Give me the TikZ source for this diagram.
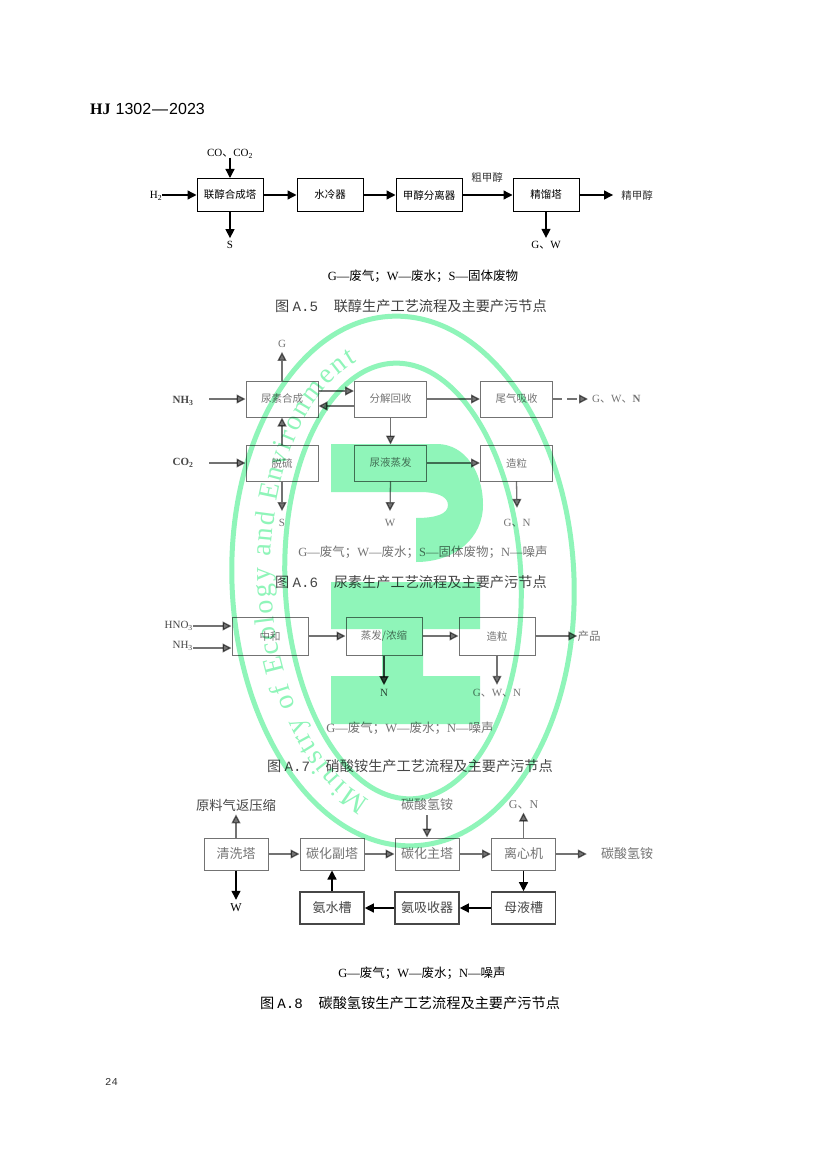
\documentclass[tikz,border=0pt]{standalone}
\usepackage{fontspec}
\setmainfont{Liberation Serif}
\setsansfont{Liberation Sans}
\setmonofont{Liberation Mono}
\newfontfamily\cjk{Noto Sans CJK SC}
\usetikzlibrary{arrows.meta,decorations.text}
\newcommand{\zh}[1]{{\cjk #1}}
\newcommand{\lgd}[1]{{\fontsize{12.5}{13}\selectfont #1}}
\newcommand{\capt}[2]{{\fontsize{14.2}{15}\selectfont\cjk 图 {\ttfamily #1}\hspace{1.1em}#2}}
\definecolor{wm}{HTML}{8FF5B9}
\tikzset{
 box/.style={draw,line width=1pt,inner sep=0pt,minimum width=#1,font=\fontsize{10.5}{11}\selectfont\cjk},
 box/.default=66pt,
 lab/.style={inner sep=0pt,font=\fontsize{11}{12}\selectfont},
 arr/.style={line width=1.3pt,-{Triangle[length=9pt,width=9pt]}},
 dim/.style={opacity=.55},
 dimk/.style={opacity=.72},
}
\begin{document}
\begin{tikzpicture}[x=1pt,y=-1pt]
\useasboundingbox (0,0) rectangle (826,1169);
\fill[white] (0,0) rectangle (826,1169);
% watermark
\begin{scope}[shift={(403,581)},rotate=2.5]
\draw[wm,line width=5pt] (0,0) ellipse [x radius=171,y radius=265];
\draw[wm,line width=5pt] (0,0) ellipse [x radius=118,y radius=218];
\draw[decorate,decoration={text along path,text align={fit to path},
  text={|\fontsize{28}{29}\selectfont\color{wm}|Ministry of Ecology and Environment}}]
 plot[domain=109:254,samples=150,variable=\t] ({132*cos(\t)},{230*sin(\t)});
\end{scope}
\fill[wm] (331,444) -- (437,444) .. controls (465,444) and (483,472) .. (483,505)
 .. controls (483,538) and (455,562) .. (416,562) -- (416,518)
 .. controls (436,518) and (448,514) .. (448,505) .. controls (448,496) and (436,492) .. (420,492)
 -- (331,492) -- cycle;
\fill[wm] (331,582) -- (480,582) -- (480,629) -- (423,629) -- (423,676) -- (480,676) -- (480,724)
 -- (331,724) -- (331,676) -- (382,676) -- (382,629) -- (331,629) -- cycle;
% header
\node[anchor=base west,inner sep=0pt,font=\fontsize{16}{17}\selectfont] (hdr) at (90,115) {\textbf{HJ}\hspace{5pt}\textsf{1302\hspace{1pt}—\hspace{1pt}2023}};
\node[anchor=base west,inner sep=0pt,font=\fontsize{10.5}{11}\selectfont\ttfamily,opacity=.8] (pg) at (105,1085) {24};
% Diagram A.5
\begin{scope}[every node/.append style={minimum height=33pt}]
\node[box] (a1) at (230,195) {联醇合成塔};
\node[box] (a2) at (330,195) {水冷器};
\node[box] (a3) at (429,195) {甲醇分离器};
\node[box] (a4) at (546,195) {精馏塔};
\end{scope}
\node[lab] (h2) at (156,196) {H\textsubscript{2}};
\node[lab] (co) at (230,154) {CO\zh{、}CO\textsubscript{2}};
\node[lab] (as) at (230,245) {S};
\node[lab] (agw) at (546,245) {G\zh{、}W};
\node[lab,font=\fontsize{10.5}{11}\selectfont\cjk,opacity=.8] (acu) at (487,177) {粗甲醇};
\node[lab,font=\fontsize{10.5}{11}\selectfont\cjk,opacity=.8] (ajing) at (637,195) {精甲醇};
\draw[arr] (h2.east |- a1.west) -- (a1.west);
\draw[arr] (co.south) ++(0,-1) -- (a1.north);
\draw[arr] (a1.south) -- ([yshift=3pt]as.north);
\draw[arr] (a1) -- (a2);
\draw[arr] (a2) -- (a3);
\draw[arr] (a3) -- (a4);
\draw[arr] (a4.east) -- ([xshift=-8pt]ajing.west);
\draw[arr] (a4.south) -- ([yshift=3pt]agw.north);
\node[lab] (al) at (423,276) {\lgd{G—\zh{废气；}W—\zh{废水；}S—\zh{固体废物}}};
\node[lab,opacity=.75] (ac) at (411,306) {\capt{A.5}{联醇生产工艺流程及主要产污节点}};
% Diagram A.6
\begin{scope}[every node/.append style={minimum height=36pt,dim,font=\fontsize{11}{12}\selectfont\cjk}]
\node[box=72pt] (b1) at (282,399) {尿素合成};
\node[box=72pt] (b2) at (390.5,399) {分解回收};
\node[box=72pt] (b3) at (516.5,399) {尾气吸收};
\node[box=72pt] (b4) at (282,463) {脱硫};
\node[box=72pt] (b5) at (390.5,463) {尿液蒸发};
\node[box=72pt] (b6) at (516.5,463) {造粒};
\end{scope}
\node[lab,font=\bfseries\fontsize{11}{12}\selectfont,dimk] (nh) at (183,401) {NH\textsubscript{3}};
\node[lab,font=\bfseries\fontsize{11}{12}\selectfont,dimk] (co2) at (183,463) {CO\textsubscript{2}};
\node[lab,dim] (bg) at (282,344) {G};
\node[lab,dim] (bs) at (282,523) {S};
\node[lab,dim] (bw) at (390,523) {W};
\node[lab,dim] (bgn) at (517,523) {G\zh{、}N};
\node[lab,dim,anchor=west] (bgwn) at (592,399) {G\zh{、}W\zh{、}\textbf{N}};
\coordinate (nhs) at (209,399);
\coordinate (cos) at (209,463);
\draw[arr,dim] (nhs) -- (b1.west);
\draw[arr,dim] (cos) -- (b4.west);
\draw[arr,dim] (b1.north) -- ([yshift=-4pt]bg.south);
\draw[arr,dim] (b4.north) -- (b1.south);
\draw[arr,dim] ([yshift=8pt]b1.east) -- ([yshift=8pt]b2.west);
\draw[arr,dim] ([yshift=-7pt]b2.west) -- ([yshift=-7pt]b1.east);
\draw[arr,dim] (b2) -- (b3);
\draw[arr,dim] (b2) -- (b5);
\draw[arr,dim] (b5) -- (b6);
\draw[arr,dim,dash pattern=on 9pt off 5pt on 10pt off 3pt] (b3.east) -- ([xshift=-4pt]bgwn.west);
\draw[arr,dim] (b4.south) -- ([yshift=8pt]bs.north);
\draw[arr,dim] (b5.south) -- ([yshift=8pt]bw.north);
\draw[arr,dim] (b6.south) -- ([yshift=11pt]bgn.north);
\node[lab,dim] (bl) at (423,552) {\lgd{G—\zh{废气；}W—\zh{废水；}S—\zh{固体废物；}N—\zh{噪声}}};
\node[lab,dimk] (bc) at (411,582) {\capt{A.6}{尿素生产工艺流程及主要产污节点}};
% Diagram A.7
\begin{scope}[every node/.append style={minimum height=38pt,dim,font=\fontsize{11.5}{12}\selectfont\cjk}]
\node[box=76pt] (c1) at (270,636) {中和};
\node[box=76pt] (c2) at (384,636) {蒸发/浓缩};
\node[box=76pt] (c3) at (497,636) {造粒};
\end{scope}
\node[lab,dimk,anchor=east] (hn) at (193,626) {HNO\textsubscript{3}};
\node[lab,dimk,anchor=east] (nh2) at (193,646) {NH\textsubscript{3}};
\node[lab,dim,font=\fontsize{11.5}{12}\selectfont\cjk] (cp) at (589,636) {产品};
\node[lab,dimk] (cn) at (384,693) {N};
\node[lab,dim] (cg) at (497,693) {G\zh{、}W\zh{、}N};
\draw[arr,dim] (hn.east) -- (hn.east -| c1.west);
\draw[arr,dim] ([yshift=-2pt]nh2.east) -- ([yshift=-2pt]nh2.east -| c1.west);
\draw[arr,dim] (c1) -- (c2);
\draw[arr,dim] (c2) -- (c3);
\draw[arr,dim] (c3.east) -- (cp.west);
\draw[arr,dimk] (c2.south) -- ([yshift=4pt]cn.north);
\draw[arr,dim] (c3.south) -- ([yshift=4pt]cg.north);
\node[lab,dim] (cl) at (410,728) {\lgd{G—\zh{废气；}W—\zh{废水；}N—\zh{噪声}}};
\node[lab,dimk] (cc) at (410,766) {\capt{A.7}{硝酸铵生产工艺流程及主要产污节点}};
% Diagram A.8
\tikzset{d8/.style={box=64pt,minimum height=32pt,font=\fontsize{13}{14}\selectfont\cjk}}
\node[d8,dim] (d1) at (236,854) {清洗塔};
\node[d8,dim] (d2) at (332,854) {碳化副塔};
\node[d8,dim] (d3) at (427,854) {碳化主塔};
\node[d8,dim] (d4) at (523.5,854) {离心机};
\node[d8,dimk,line width=1.6pt] (d5) at (332,908) {氨水槽};
\node[d8,dimk,line width=1.6pt] (d6) at (427,908) {氨吸收器};
\node[d8,dimk,line width=1.6pt] (d7) at (523.5,908) {母液槽};
\node[lab,dimk,font=\fontsize{13.3}{14}\selectfont\cjk] (dy) at (236,805) {原料气返压缩};
\node[lab,dim,font=\fontsize{13}{14}\selectfont\cjk] (dt) at (427,805) {碳酸氢铵};
\node[lab,dim,font=\fontsize{12}{13}\selectfont] (dg) at (523.5,805) {G\zh{、}N};
\node[lab,dim,font=\fontsize{13}{14}\selectfont\cjk] (dp) at (627,854) {碳酸氢铵};
\node[lab,font=\fontsize{12}{13}\selectfont] (dw) at (236,908) {W};
\draw[arr,dim] (d1.north) -- ([yshift=-3pt]dy.south);
\draw[arr,dim] ([yshift=-4pt]dt.south) -- (d3.north);
\draw[arr,dim] (d4.north) -- ([yshift=-3pt]dg.south);
\draw[arr] (d1.south) -- ([yshift=4pt]dw.north);
\draw[arr,dim] (d1) -- (d2);
\draw[arr,dim] (d2) -- (d3);
\draw[arr,dim] (d3) -- (d4);
\draw[arr,dim] (d4.east) -- ([xshift=-14pt]dp.west);
\draw[arr] (d4) -- (d7);
\draw[arr] (d7) -- (d6);
\draw[arr] (d6) -- (d5);
\draw[arr] (d5) -- (d2);
\node[lab] (dl) at (422,973) {\lgd{G—\zh{废气；}W—\zh{废水；}N—\zh{噪声}}};
\node[lab] (dc) at (410,1003) {\capt{A.8}{碳酸氢铵生产工艺流程及主要产污节点}};
\end{tikzpicture}
\end{document}
